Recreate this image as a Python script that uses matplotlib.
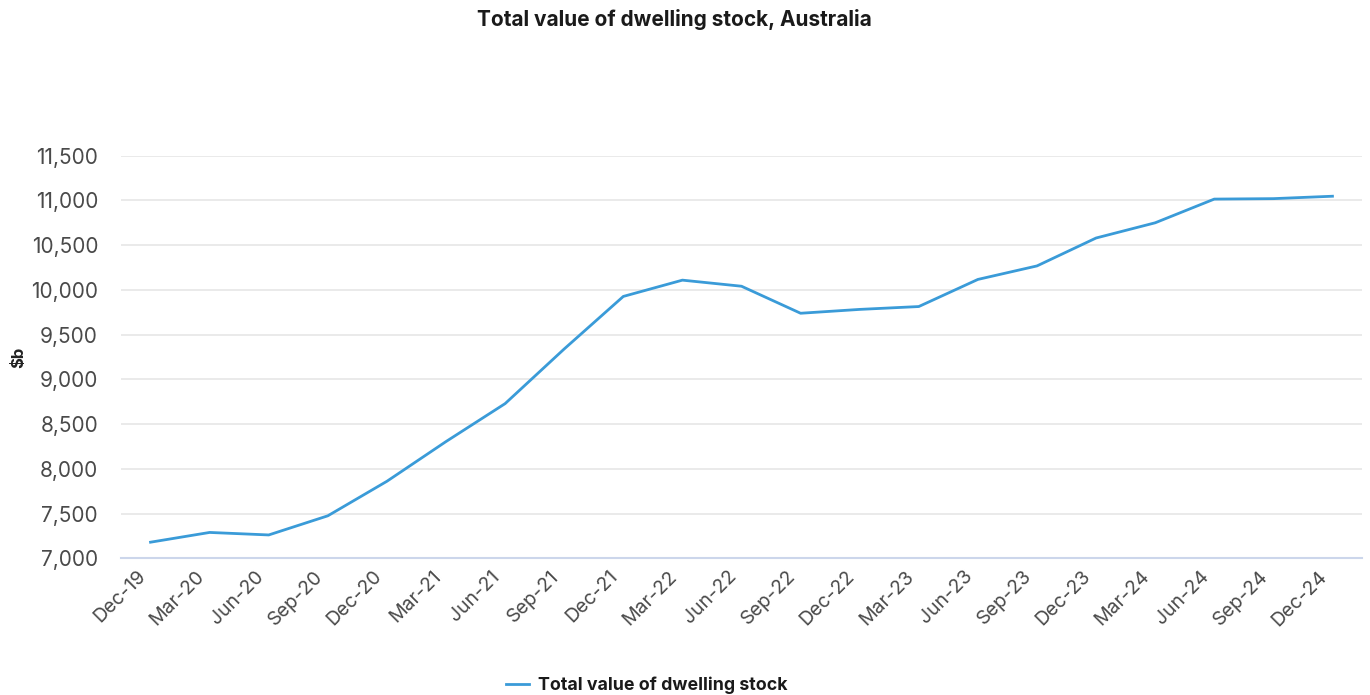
import matplotlib
matplotlib.use("Agg")
import matplotlib.pyplot as plt
import matplotlib.transforms as mtransforms
from matplotlib.ticker import FuncFormatter, MultipleLocator

plt.rcParams['font.family'] = ['Inter', 'DejaVu Sans']

quarters = ["Dec-19", "Mar-20", "Jun-20", "Sep-20", "Dec-20", "Mar-21", "Jun-21",
            "Sep-21", "Dec-21", "Mar-22", "Jun-22", "Sep-22", "Dec-22", "Mar-23",
            "Jun-23", "Sep-23", "Dec-23", "Mar-24", "Jun-24", "Sep-24", "Dec-24"]
dwelling_value = [7180, 7289, 7261, 7475, 7861, 8305, 8729, 9340, 9927, 10109, 10041,
                  9739, 9782, 9814, 10117, 10268, 10580, 10750, 11015, 11020, 11047]
series_name = "Total value of dwelling stock"
title = "Total value of dwelling stock, Australia"
y_label = "$b"

W, H = 1370, 695
fig = plt.figure(figsize=(W / 100, H / 100), dpi=100)
ax = fig.add_axes([121 / W, 1 - 558.3 / H, (1362 - 121) / W, (558.3 - 155.7) / H])

x = list(range(len(quarters)))
line, = ax.plot(x, dwelling_value, color="#3a9bd8", lw=2.0, solid_joinstyle="round",
                zorder=3)

ax.set_xlim(-0.5, len(quarters) - 0.5)
ax.set_ylim(7000, 11500)
ax.yaxis.set_major_locator(MultipleLocator(500))
ax.yaxis.set_major_formatter(FuncFormatter(lambda v, p: f"{int(v):,}"))
ax.grid(axis="y", color="#e6e6e6", lw=1.2)
ax.set_axisbelow(True)
for s in ["top", "right", "left"]:
    ax.spines[s].set_visible(False)
ax.spines["bottom"].set_color("#ccd6eb")
ax.spines["bottom"].set_linewidth(1.5)
ax.tick_params(axis="both", length=0, colors="#4a4a4a")
ax.tick_params(axis="y", pad=16.5, labelsize=15)
ax.tick_params(axis="x", pad=11, labelsize=14)

ax.set_xticks(x)
ax.set_xticklabels(quarters, rotation=45, ha="right", va="center",
                   rotation_mode="anchor")
offset = mtransforms.ScaledTranslation(-8 / 100, 0, fig.dpi_scale_trans)
for lab in ax.get_xticklabels():
    lab.set_transform(lab.get_transform() + offset)

ax.set_ylabel(y_label, fontsize=12, fontweight="bold", color="#222222", labelpad=0)
ax.yaxis.set_label_coords(-95 / 1241, 0.5)

fig.text(674 / W, 1 - 20 / H, title, ha="center", va="center", fontsize=15,
         fontweight="bold", color="#1a1a1a")

leg = fig.legend([line], [series_name], loc="center",
                 bbox_to_anchor=(647 / W, 1 - 685 / H), frameon=False,
                 prop={"weight": "bold", "size": 12.8}, handlelength=1.3,
                 handletextpad=0.5)
for t in leg.get_texts():
    t.set_color("#1a1a1a")

fig.savefig("out.png", dpi=100)
